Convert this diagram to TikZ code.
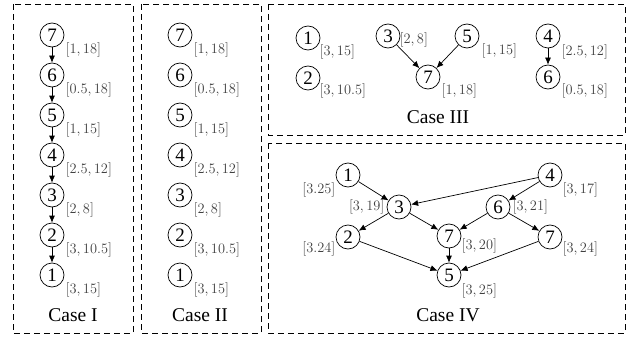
\documentclass[tikz,border=0pt]{standalone}
\usepackage[no-math]{fontspec}
\setmainfont{Liberation Serif}
\usetikzlibrary{arrows.meta,positioning}
\tikzset{
  vtx/.style={circle,draw,line width=0.7pt,minimum size=24pt,inner sep=0pt,font=\fontsize{19}{19}\selectfont},
  lbl/.style={inner sep=0.5pt,font=\fontsize{14.5}{14.5}\selectfont,color=black!75},
  cas/.style={font=\fontsize{19.5}{19.5}\selectfont},
  panel/.style={draw,line width=0.7pt,dash pattern=on 6pt off 4pt},
  ar/.style={-{Latex[length=7pt,width=6pt]},line width=0.7pt},
}
\begin{document}
\begin{tikzpicture}[x=1pt,y=-1pt]
\useasboundingbox (0,0) rectangle (629,337);

% ---- panels ----
\draw[panel] (13,4) rectangle (133,333);
\draw[panel] (141,4) rectangle (261,333);
\draw[panel] (268,4) rectangle (625,135);
\draw[panel] (268,143) rectangle (625,333);

% ---- case I ----
\node[vtx] (a7) at (52,35)  {7};
\node[vtx] (a6) at (52,75)  {6};
\node[vtx] (a5) at (52,115) {5};
\node[vtx] (a4) at (52,155) {4};
\node[vtx] (a3) at (52,195) {3};
\node[vtx] (a2) at (52,235) {2};
\node[vtx] (a1) at (52,275) {1};
\node[lbl,anchor=west] (la7) at (65,50)  {$[1, 18]$};
\node[lbl,anchor=west] (la6) at (65,90)  {$[0.5, 18]$};
\node[lbl,anchor=west] (la5) at (65,130) {$[1, 15]$};
\node[lbl,anchor=west] (la4) at (65,170) {$[2.5, 12]$};
\node[lbl,anchor=west] (la3) at (65,210) {$[2, 8]$};
\node[lbl,anchor=west] (la2) at (65,250) {$[3, 10.5]$};
\node[lbl,anchor=west] (la1) at (65,290) {$[3, 15]$};
\draw[ar] (a7) -- (a6);
\draw[ar] (a6) -- (a5);
\draw[ar] (a5) -- (a4);
\draw[ar] (a4) -- (a3);
\draw[ar] (a3) -- (a2);
\draw[ar] (a2) -- (a1);
\node[cas] (ca) at (73,315) {Case I};

% ---- case II ----
\node[vtx] (b7) at (180,35)  {7};
\node[vtx] (b6) at (180,75)  {6};
\node[vtx] (b5) at (180,115) {5};
\node[vtx] (b4) at (180,155) {4};
\node[vtx] (b3) at (180,195) {3};
\node[vtx] (b2) at (180,235) {2};
\node[vtx] (b1) at (180,275) {1};
\node[lbl,anchor=west] (lb7) at (193,50)  {$[1, 18]$};
\node[lbl,anchor=west] (lb6) at (193,90)  {$[0.5, 18]$};
\node[lbl,anchor=west] (lb5) at (193,130) {$[1, 15]$};
\node[lbl,anchor=west] (lb4) at (193,170) {$[2.5, 12]$};
\node[lbl,anchor=west] (lb3) at (193,210) {$[2, 8]$};
\node[lbl,anchor=west] (lb2) at (193,250) {$[3, 10.5]$};
\node[lbl,anchor=west] (lb1) at (193,290) {$[3, 15]$};
\node[cas] (cb) at (200,315) {Case II};

% ---- case III ----
\node[vtx] (c1) at (308,38) {1};
\node[vtx] (c2) at (308,78) {2};
\node[vtx] (c3) at (388,36) {3};
\node[vtx] (c5) at (467,36) {5};
\node[vtx] (c7) at (428,77) {7};
\node[vtx] (c4) at (548,36) {4};
\node[vtx] (c6) at (548,77) {6};
\node[lbl,anchor=west] (lc1) at (319,52) {$[3, 15]$};
\node[lbl,anchor=west] (lc2) at (319,91) {$[3, 10.5]$};
\node[lbl,anchor=west] (lc3) at (399,40) {$[2, 8]$};
\node[lbl,anchor=west] (lc5) at (481,51) {$[1, 15]$};
\node[lbl,anchor=west] (lc7) at (441,91) {$[1, 18]$};
\node[lbl,anchor=west] (lc4) at (561,52) {$[2.5, 12]$};
\node[lbl,anchor=west] (lc6) at (561,91) {$[0.5, 18]$};
\draw[ar] (c3) -- (c7);
\draw[ar] (c5) -- (c7);
\draw[ar] (c4) -- (c6);
\node[cas] (cc) at (438,117) {Case III};

% ---- case IV ----
\node[vtx] (d1) at (348,175) {1};
\node[vtx] (d4) at (550,175) {4};
\node[vtx] (d3) at (399,207) {3};
\node[vtx] (d6) at (498,207) {6};
\node[vtx] (d2) at (348,237) {2};
\node[vtx] (d7) at (449,236) {7};
\node[vtx] (d8) at (550,237) {7};
\node[vtx] (d5) at (449,275) {5};
\node[lbl,anchor=east] (ld1) at (336,190) {$[3.25]$};
\node[lbl,anchor=east] (ld3) at (385,207) {$[3, 19]$};
\node[lbl,anchor=east] (ld2) at (336,249) {$[3.24]$};
\node[lbl,anchor=west] (ld4) at (562,190) {$[3, 17]$};
\node[lbl,anchor=west] (ld6) at (512,207) {$[3, 21]$};
\node[lbl,anchor=west] (ld7) at (461,246) {$[3, 20]$};
\node[lbl,anchor=west] (ld8) at (562,249) {$[3, 24]$};
\node[lbl,anchor=west] (ld5) at (461,291) {$[3, 25]$};
\draw[ar] (d1) -- (d3);
\draw[ar] (d4) -- (d3);
\draw[ar] (d4) -- (d6);
\draw[ar] (d3) -- (d2);
\draw[ar] (d3) -- (d7);
\draw[ar] (d6) -- (d7);
\draw[ar] (d6) -- (d8);
\draw[ar] (d2) -- (d5);
\draw[ar] (d7) -- (d5);
\draw[ar] (d8) -- (d5);
\node[cas] (cd) at (448,315) {Case IV};

\end{tikzpicture}
\end{document}
